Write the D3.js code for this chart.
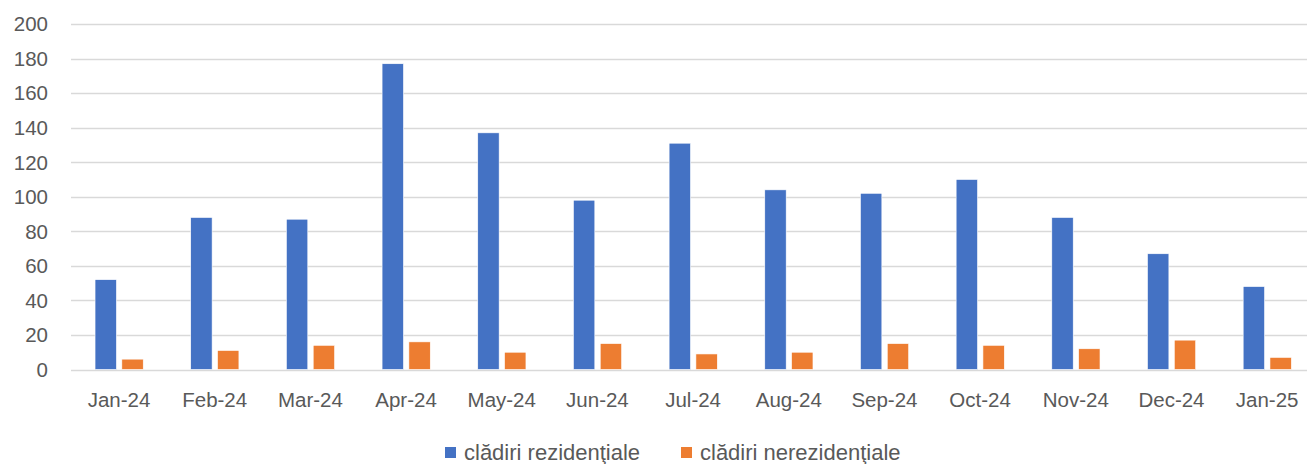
<!DOCTYPE html>
<html><head><meta charset="utf-8">
<script src="https://cdn.jsdelivr.net/npm/d3@7"></script>
<style>body{margin:0;background:#fff}svg{display:block}text{font-family:"Liberation Sans",Arial,sans-serif;fill:#595959}</style>
</head><body><svg id="c" width="1307" height="464"></svg>
<script>
const categories = ["Jan-24","Feb-24","Mar-24","Apr-24","May-24","Jun-24","Jul-24","Aug-24","Sep-24","Oct-24","Nov-24","Dec-24","Jan-25"];
const rezidentiale = [52,88,87,177,137,98,131,104,102,110,88,67,48];
const nerezidentiale = [6,11,14,16,10,15,9,10,15,14,12,17,7];
const yTicks = [0,20,40,60,80,100,120,140,160,180,200];
const seriesNames = ["clădiri rezidenţiale","clădiri nerezidenţiale"];
const colors = ["#4472C4","#ED7D31"];

const svg = d3.select("#c");
const x = d3.scaleBand().domain(categories).range([71.2, 1315]);
const y = d3.scaleLinear().domain([0,200]).range([369.5, 24]);

// gridlines
svg.append("g").selectAll("line").data(yTicks).join("line")
  .attr("x1",71).attr("x2",1307).attr("y1",d=>Math.round(y(d))+0.5).attr("y2",d=>Math.round(y(d))+0.5)
  .attr("stroke","#d9d9d9").attr("stroke-width",1.5);

// y labels
svg.append("g").selectAll("text").data(yTicks).join("text")
  .attr("x",48).attr("y",d=>y(d)).attr("dy","0.36em").attr("text-anchor","end")
  .style("font-size","20.5px").text(d=>d);

const series = [rezidentiale, nerezidentiale];
const offsets = [-24, 2.8];
series.forEach((vals,i)=>{
  svg.append("g").selectAll("rect").data(vals).join("rect")
    .attr("x",(d,j)=>x(categories[j])+x.bandwidth()/2+offsets[i])
    .attr("width",21.4)
    .attr("y",d=>y(d)).attr("height",d=>y(0)-y(d))
    .attr("fill",colors[i]).attr("stroke","#fff").attr("stroke-width",0.6);
});

// x labels
svg.append("g").selectAll("text").data(categories).join("text")
  .attr("x",d=>x(d)+x.bandwidth()/2).attr("y",407).attr("text-anchor","middle")
  .style("font-size","20.5px").text(d=>d);

// legend
const leg = [{x:445,tx:464},{x:681,tx:700}];
seriesNames.forEach((n,i)=>{
  svg.append("rect").attr("x",leg[i].x).attr("y",447).attr("width",11).attr("height",11).attr("fill",colors[i]);
  svg.append("text").attr("x",leg[i].tx).attr("y",460).style("font-size","22px").text(n);
});
</script></body></html>
